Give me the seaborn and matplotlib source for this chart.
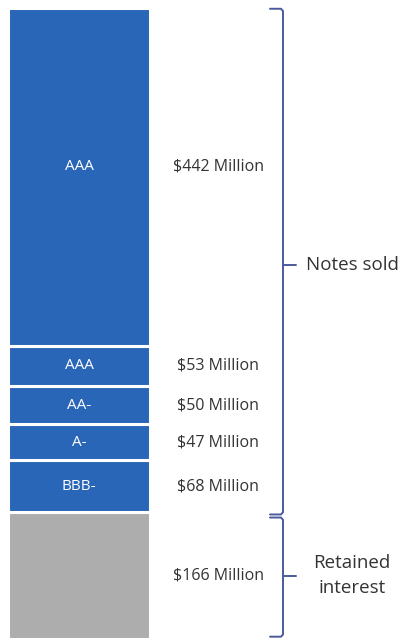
import numpy as np
import pandas as pd
import matplotlib
matplotlib.use("Agg")
import matplotlib.pyplot as plt
import seaborn as sns

# Segments listed from the bottom of the stack to the top
ratings = ["Retained", "BBB-", "A-", "AA-", "AAA", "AAA"]
amounts = [166, 68, 47, 50, 53, 442]
value_labels = ["$166 Million", "$68 Million", "$47 Million",
                "$50 Million", "$53 Million", "$442 Million"]
colors = ["#adadad", "#2a66b8", "#2a66b8", "#2a66b8", "#2a66b8", "#2a66b8"]

groups = ["Notes sold", "Retained\ninterest"]
group_ranges = [(166, 826), (0, 166)]

sns.set_theme(style="white")
plt.rcParams["font.family"] = ["Open Sans", "DejaVu Sans"]

fig = plt.figure(figsize=(4.01, 6.39), dpi=100)
ax = fig.add_axes([0, 0, 1, 1])

bottoms = np.concatenate([[0], np.cumsum(amounts)[:-1]])
for i in range(len(amounts)):
    df = pd.DataFrame({"bar": ["stack"], "amount": [amounts[i]]})
    sns.barplot(data=df, x="bar", y="amount", bottom=bottoms[i], width=1,
                color=colors[i], saturation=1, edgecolor="white",
                linewidth=2.2, ax=ax)
    mid = bottoms[i] + amounts[i] / 2
    if i == len(amounts) - 1:
        mid += 14  # top label sits a bit above the middle
    if ratings[i] != "Retained":
        ax.text(0, mid, ratings[i], color="white", ha="center", va="center",
                fontsize=11)
    ax.text(0.98, mid, value_labels[i], color="#333333", ha="center",
            va="center", fontsize=11.5)

# braces on the right
px = 1 / 142
x_line = 0.5 + 133 * px
x_tip = 0.5 + 120 * px
x_mid = 0.5 + 146 * px
brace_color = "#4a5a9c"
for (lo, hi), name in zip(group_ranges, groups):
    lo_b = lo + 3 if lo == 0 else lo - 3
    hi_b = hi - 1 if hi == 826 else hi - 7
    mid = (lo + hi) / 2
    if hi == 826:
        mid -= 7
    ax.plot([x_tip, x_line - 2 * px, x_line, x_line, x_line - 2 * px, x_tip],
            [hi_b, hi_b, hi_b - 3, lo_b + 3, lo_b, lo_b],
            color=brace_color, lw=1.4, solid_capstyle="round")
    ax.plot([x_line, x_mid], [mid, mid], color=brace_color, lw=1.4)
    ax.text(0.5 + 202 * px, mid, name, color="#333333", ha="center",
            va="center", fontsize=13.5, linespacing=1.5)

ax.set_xlim(-0.5 - 8 * px, 0.5 + 251 * px)
ax.set_ylim(0, 826 / 631 * 639)
ax.set_axis_off()

fig.savefig("out.png", dpi=100)
